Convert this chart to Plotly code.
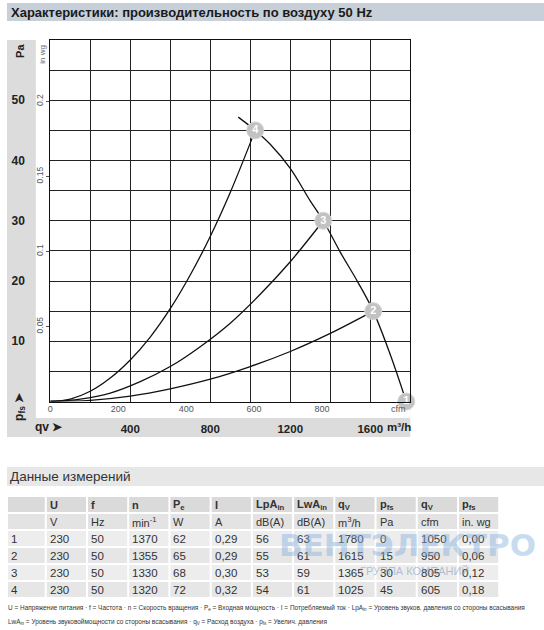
import plotly.graph_objects as go

W, H = 544, 630

# ---------------- data ----------------
# fan characteristic, q_v in m3/h, p_fs in Pa
fan_q = [940, 1025, 1100, 1200, 1300, 1365, 1450, 1540, 1615, 1700, 1780]
fan_p = [47.2, 45.0, 42.7, 38.7, 33.3, 30.0, 24.8, 19.7, 15.0, 7.8, 0.0]

# system curves through the operating points
sys4_q = [0, 100, 200, 300, 400, 500, 600, 700, 800, 900, 1025]
sys4_p = [0, 0.4, 1.7, 3.9, 6.9, 10.7, 15.4, 21.0, 27.4, 34.7, 45.0]
sys3_q = [0, 150, 300, 450, 600, 750, 900, 1050, 1200, 1365]
sys3_p = [0, 0.4, 1.4, 3.3, 5.8, 9.1, 13.0, 17.8, 23.2, 30.0]
sys2_q = [0, 200, 400, 600, 800, 1000, 1200, 1400, 1615]
sys2_p = [0, 0.2, 0.9, 2.1, 3.7, 5.8, 8.3, 11.3, 15.0]

# measurement table
point_no = ["1", "2", "3", "4"]
U_V = ["230", "230", "230", "230"]
f_Hz = ["50", "50", "50", "50"]
n_rpm = ["1370", "1355", "1330", "1320"]
Pe_W = ["62", "65", "68", "72"]
I_A = ["0,29", "0,29", "0,30", "0,32"]
LpA_in = ["56", "55", "53", "54"]
LwA_in = ["63", "61", "59", "61"]
qv_m3h = [1780, 1615, 1365, 1025]
pfs_Pa = [0, 15, 30, 45]
qv_cfm = ["1050", "950", "805", "605"]
pfs_inwg = ["0,00", "0,06", "0,12", "0,18"]

head_sym = ["", "U", "f", "n", "P<sub>e</sub>", "I", "LpA<sub>in</sub>", "LwA<sub>in</sub>",
            "q<sub>V</sub>", "p<sub>fs</sub>", "q<sub>V</sub>", "p<sub>fs</sub>"]
head_unit = ["", "V", "Hz", "min<sup>-1</sup>", "W", "A", "dB(A)", "dB(A)",
             "m<sup>3</sup>/h", "Pa", "cfm", "in. wg"]

# axis ticks
x_grid = [200, 400, 600, 800, 1000, 1200, 1400, 1600]
x_lab = ["", "400", "", "800", "", "1200", "", "1600"]
y_grid = [5, 10, 15, 20, 25, 30, 35, 40, 45, 50, 55]
y_lab = ["", "10", "", "20", "", "30", "", "40", "", "50", ""]
cfm_ticks = [0, 200, 400, 600, 800]
inwg_ticks = [0.05, 0.1, 0.15, 0.2]
inwg_lab = ["0.05", "0.1", "0.15", "0.2"]

# ---------------- helpers ----------------
def px(x):
    return x / W


def py(y):
    return 1 - y / H


FONT = "Liberation Sans, Arial, sans-serif"
X0, X1, Y0, Y1 = 47.5, 409.5, 40, 401.5

fig = go.Figure()

LINE = dict(color="#111111", width=1.3, shape="spline", smoothing=1.0)
for q, p in [(sys2_q, sys2_p), (sys3_q, sys3_p), (sys4_q, sys4_p), (fan_q, fan_p)]:
    fig.add_trace(go.Scatter(x=q, y=p, mode="lines", line=LINE, hoverinfo="skip",
                             showlegend=False))

fig.add_trace(go.Scatter(
    x=qv_m3h, y=pfs_Pa, mode="markers+text", text=point_no,
    textposition="middle center", cliponaxis=False,
    marker=dict(size=17, color="#c2c2c2", line=dict(color="#d6d6d6", width=1)),
    textfont=dict(color="white", size=11, family=FONT, weight="bold"),
    hoverinfo="skip", showlegend=False))

# invisible trace on secondary axes (cfm / in wg)
fig.add_trace(go.Scatter(x=[None], y=[None], xaxis="x2", yaxis="y2",
                         showlegend=False, hoverinfo="skip"))

axis_common = dict(showline=True, linecolor="#111111", linewidth=1, mirror=True,
                   zeroline=False, fixedrange=True, showgrid=True,
                   gridcolor="#222222", gridwidth=1, ticks="")

fig.update_layout(
    width=W, height=H, margin=dict(l=0, r=0, t=0, b=0),
    paper_bgcolor="white", plot_bgcolor="white", showlegend=False,
    font=dict(family=FONT, color="#222222"),
    xaxis=dict(domain=[px(X0), px(X1)], range=[0, 1800], tickmode="array",
               tickvals=x_grid, ticktext=x_lab, ticklabelstandoff=17,
               tickfont=dict(size=11.5, weight="bold", color="#222222"),
               **axis_common),
    yaxis=dict(domain=[py(Y1), py(Y0)], range=[0, 60], tickmode="array",
               tickvals=y_grid, ticktext=y_lab, ticklabelstandoff=22,
               tickfont=dict(size=12, weight="bold", color="#222222"),
               **axis_common),
    xaxis2=dict(overlaying="x", anchor="y", side="bottom",
                range=[0, 1800 / 1.699], tickmode="array", tickvals=cfm_ticks,
                tickfont=dict(size=9, color="#555555"), ticks="",
                showgrid=False, showline=False, zeroline=False, fixedrange=True),
    yaxis2=dict(overlaying="y", anchor="x", side="left",
                range=[0, 60 / 249.089], tickmode="array", tickvals=inwg_ticks,
                ticktext=inwg_lab, tickangle=-90,
                tickfont=dict(size=8.5, color="#555555"), ticks="outside",
                ticklen=3, tickcolor="#555555", showgrid=False, showline=False,
                zeroline=False, fixedrange=True),
)

shapes = []


def rect(x0, x1, y0, y1, fill):
    shapes.append(dict(type="rect", xref="paper", yref="paper", x0=px(x0), x1=px(x1),
                       y0=py(y1), y1=py(y0), fillcolor=fill, line=dict(width=0),
                       layer="below"))


rect(4, W, 3, 21, "#c7cfd8")          # title band
rect(4, X1, Y0, 437, "#dcdcdc")       # chart grey frame
rect(33, X1, Y0, 418, "white")        # chart white inner
rect(4, W, 467, 486, "#e7e7e7")       # "measurement data" band


def ann(text, x, y, size, color="#222222", family=FONT, xanchor="center",
        angle=0, xref="paper", yref="paper", weight="normal"):
    fig.add_annotation(text=text, x=x, y=y, xref=xref, yref=yref, showarrow=False,
                       xanchor=xanchor, yanchor="middle", textangle=angle,
                       font=dict(size=size, color=color, family=family, weight=weight))


# ---------------- measurement table (cells built from the lists) ----------------
table_cols = [point_no, U_V, f_Hz, n_rpm, Pe_W, I_A, LpA_in, LwA_in,
              [str(v) for v in qv_m3h], [str(v) for v in pfs_Pa], qv_cfm, pfs_inwg]
col_w = [39] + [41.45] * 11
row_h = 17
T_X, T_Y = 4, 496
row_fill = ["#dadada", "#e3e3e3", "#ededed", "#e6e6e6", "#ededed", "#e6e6e6"]
xe = [T_X]
for w in col_w:
    xe.append(xe[-1] + w)
for r in range(6):
    y0 = T_Y + r * row_h
    for c in range(12):
        rect(xe[c] + 1, xe[c + 1] - 1, y0 + 1, y0 + row_h - 1, row_fill[r])
        if r == 0:
            txt, sz = ("<b>%s</b>" % head_sym[c]) if head_sym[c] else "", 11
        elif r == 1:
            txt, sz = head_unit[c], 11
        else:
            txt, sz = table_cols[c][r - 2], 11.5
        if txt:
            ann(txt, px(xe[c] + 2), py(y0 + row_h / 2 + 0.5), sz, color="#333333",
                xanchor="left")

fig.update_layout(shapes=shapes)

# ---------------- texts ----------------
ann("<b>Характеристики: производительность по воздуху 50 Hz</b>", px(6), py(12), 13,
    color="#1a1a1a", xanchor="left")
ann("<b>Pa</b>", px(17), py(51), 11, angle=-90)
ann("in wg", px(39), py(54), 8, color="#666666", angle=-90)
ann("<b>p<sub>fs</sub> ➤</b>", px(17), py(406), 12, angle=-90)
ann("<b>qv ➤</b>", px(30), py(427), 12, xanchor="left")
ann("<b>m³/h</b>", 1675, py(427), 11.5, xanchor="left", xref="x")
ann("cfm", 1742, py(409), 9, color="#555555", xref="x")
ann("Данные измерений", px(5), py(476.5), 13.5, color="#333333", xanchor="left")

foot1 = ("U = Напряжение питания · f = Частота · n = Скорость вращения · "
         "P<sub>e</sub> = Входная мощность · I = Потребляемый ток · "
         "LpA<sub>in</sub> = Уровень звуков. давления со стороны всасывания")
foot2 = ("LwA<sub>in</sub> = Уровень звуковоймощности со стороны всасывания · "
         "q<sub>V</sub> = Расход воздуха · p<sub>fs</sub> = Увелич. давления")
ann(foot1, px(3), py(608), 6.45, color="#333333", xanchor="left")
ann(foot2, px(3), py(622), 6.45, color="#333333", xanchor="left")

# watermark
ann("<b>ВЕНТЭЛЕКТРО</b>", px(407), py(545), 31, color="rgba(130,175,222,0.45)",
    family="DejaVu Sans, sans-serif")
ann("ГРУППА КОМПАНИЙ", px(414), py(571), 11, color="rgba(120,150,185,0.55)")

fig.write_html("out.html", config={"displayModeBar": False, "staticPlot": True},
               post_script="document.body.style.margin='0';"
                           "document.documentElement.style.overflow='hidden';")
